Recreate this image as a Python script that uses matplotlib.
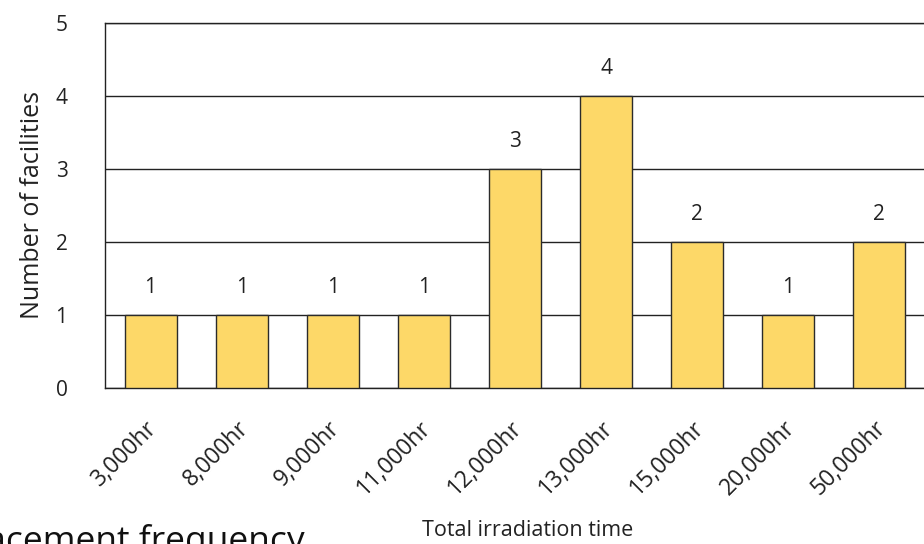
import numpy as np
import matplotlib.pyplot as plt
from matplotlib import transforms

plt.rcParams['font.family'] = ['Open Sans', 'DejaVu Sans']

# --- Data
hours = ['3,000hr', '8,000hr', '9,000hr', '11,000hr', '12,000hr',
         '13,000hr', '15,000hr', '20,000hr', '50,000hr']
n_facilities = [1, 1, 1, 1, 3, 4, 2, 1, 2]

W, H = 924, 544
fig = plt.figure(figsize=(W/100, H/100), dpi=100)
# axes runs past the right edge of the figure (10 slots wide)
ax = fig.add_axes([105/W, (H-388)/H, 911/W, 365/H])

x = np.arange(len(hours))
ax.bar(x, n_facilities, width=0.57, color='#FDD868', edgecolor='#2b2b2b',
       linewidth=1.0, zorder=3)
for xi, v in zip(x, n_facilities):
    ax.text(xi, v + 0.38, str(v), ha='center', va='center', fontsize=15,
            color='#222222')

ax.set_xlim(-0.5, 9.5)
ax.set_ylim(0, 5)
ax.set_yticks(range(6))
ax.yaxis.grid(True, color='#222222', linewidth=1.0, zorder=0)
for s in ['left', 'top', 'right', 'bottom']:
    ax.spines[s].set_color('#222222')
    ax.spines[s].set_linewidth(1.0)
ax.tick_params(axis='both', length=0, colors='#222222')
ax.tick_params(axis='y', pad=27, labelsize=15)

ax.set_xticks(x)
ax.set_xticklabels(hours, rotation=45, ha='right', rotation_mode='anchor',
                   fontsize=16.5)
off = transforms.ScaledTranslation(-5/100, -23/100, fig.dpi_scale_trans)
for lbl in ax.get_xticklabels():
    lbl.set_transform(lbl.get_transform() + off)

fig.text(33/W, 1 - 205/H, 'Number of facilities', rotation=90, ha='center',
         va='center', fontsize=18, color='#222222')
fig.text(528/W, 1 - 530/H, 'Total irradiation time', ha='center', va='center',
         fontsize=15.5, color='#222222')
fig.text(305/W, 1 - 551/H, 'Replacement frequency', ha='right', va='baseline',
         fontsize=25.5, color='#111111')

fig.savefig('out.png', dpi=100)
